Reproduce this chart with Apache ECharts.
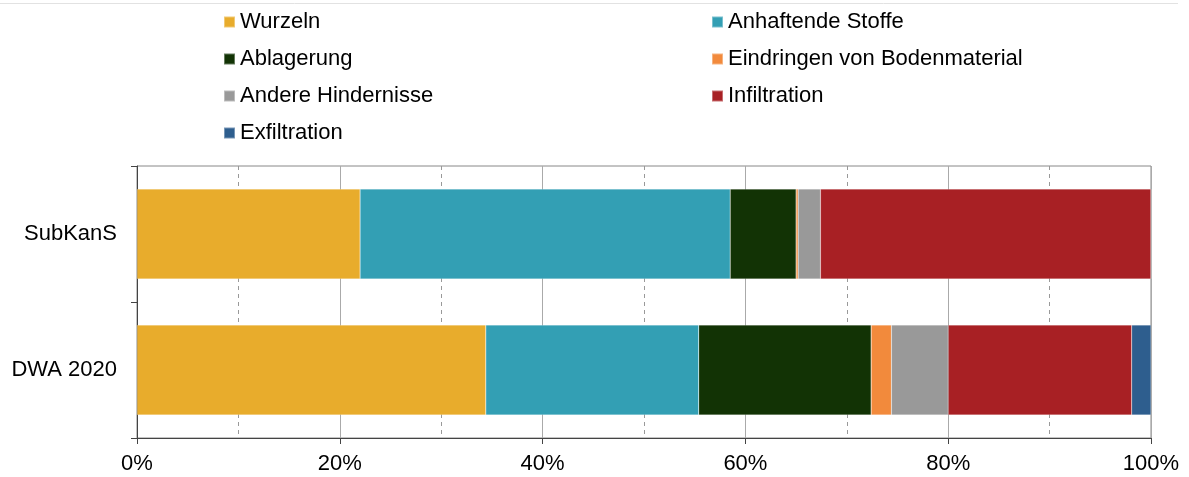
<!DOCTYPE html>
<html>
<head>
<meta charset="utf-8">
<script src="https://cdn.jsdelivr.net/npm/echarts@6/dist/echarts.min.js"></script>
<style>
  html, body { margin: 0; padding: 0; background: #fff; }
  #chart { width: 1189px; height: 477px; }
</style>
</head>
<body>
<div id="chart"></div>
<script>
// Kategorien (von oben nach unten)
const categories = ['SubKanS', 'DWA 2020']
const seriesNames = ['Wurzeln', 'Anhaftende Stoffe', 'Ablagerung', 'Eindringen von Bodenmaterial', 'Andere Hindernisse', 'Infiltration', 'Exfiltration']
// Anteile in % je Kategorie
const wurzeln = [22.0, 34.4]
const anhaftend = [36.5, 21.0]
const ablagerung = [6.5, 17.0]
const eindringen = [0.2, 2.0]
const andere = [2.2, 5.6]
const infiltration = [32.6, 18.1]
const exfiltration = [0, 1.9]
const xTicks = [0, 20, 40, 60, 80, 100]

const colors = ['#E8AC2C', '#339FB4', '#123305', '#F28A3C', '#999999', '#A82024', '#2E5E8E']
const values = [wurzeln, anhaftend, ablagerung, eindringen, andere, infiltration, exfiltration]

const chart = echarts.init(document.getElementById('chart'))
const font = "'Liberation Sans', Arial, sans-serif"

const legendBase = {
    orient: 'vertical',
    top: 6,
    itemWidth: 11,
    itemHeight: 11,
    itemGap: 15,
    icon: 'rect',
    selectedMode: false,
    textStyle: { fontSize: 22, lineHeight: 22, fontFamily: font, color: '#000' }
}

chart.setOption({
    animation: false,
    color: colors,
    textStyle: { fontFamily: font },
    legend: [
        Object.assign({}, legendBase, { left: 218, data: [seriesNames[0], seriesNames[2], seriesNames[4], seriesNames[6]] }),
        Object.assign({}, legendBase, { left: 706, data: [seriesNames[1], seriesNames[3], seriesNames[5]] })
    ],
    graphic: [{
        type: 'line',
        shape: { x1: 0, y1: 3.5, x2: 1178, y2: 3.5 },
        style: { stroke: '#e2e2e2', lineWidth: 1 }
    }],
    grid: {
        left: 137,
        right: 38,
        top: 166,
        bottom: 39,
        show: true,
        borderColor: '#888',
        borderWidth: 1
    },
    xAxis: {
        type: 'value',
        min: xTicks[0],
        max: xTicks[xTicks.length - 1],
        interval: 20,
        axisLine: { show: true, lineStyle: { color: '#444', width: 1 } },
        axisTick: { show: true, length: 6, lineStyle: { color: '#444' } },
        axisLabel: {
            formatter: '{value}%',
            fontSize: 22,
            color: '#000',
            margin: 15
        },
        splitLine: { show: true, lineStyle: { color: '#aaa', width: 1 } },
        minorTick: { show: false, splitNumber: 2 },
        minorSplitLine: { show: true, lineStyle: { color: '#999', type: [4, 4], width: 1 } }
    },
    yAxis: {
        type: 'category',
        data: categories,
        inverse: true,
        axisLine: { show: true, lineStyle: { color: '#444', width: 1 } },
        axisTick: { show: true, length: 6, lineStyle: { color: '#444' } },
        axisLabel: { fontSize: 22, color: '#000', margin: 20 },
        splitLine: { show: false }
    },
    series: seriesNames.map((name, i) => ({
        name: name,
        type: 'bar',
        stack: 'total',
        barWidth: '66%',
        itemStyle: { color: colors[i], borderColor: 'rgba(255,255,255,0.35)', borderWidth: 0.5 },
        data: values[i]
    }))
})
</script>
</body>
</html>
